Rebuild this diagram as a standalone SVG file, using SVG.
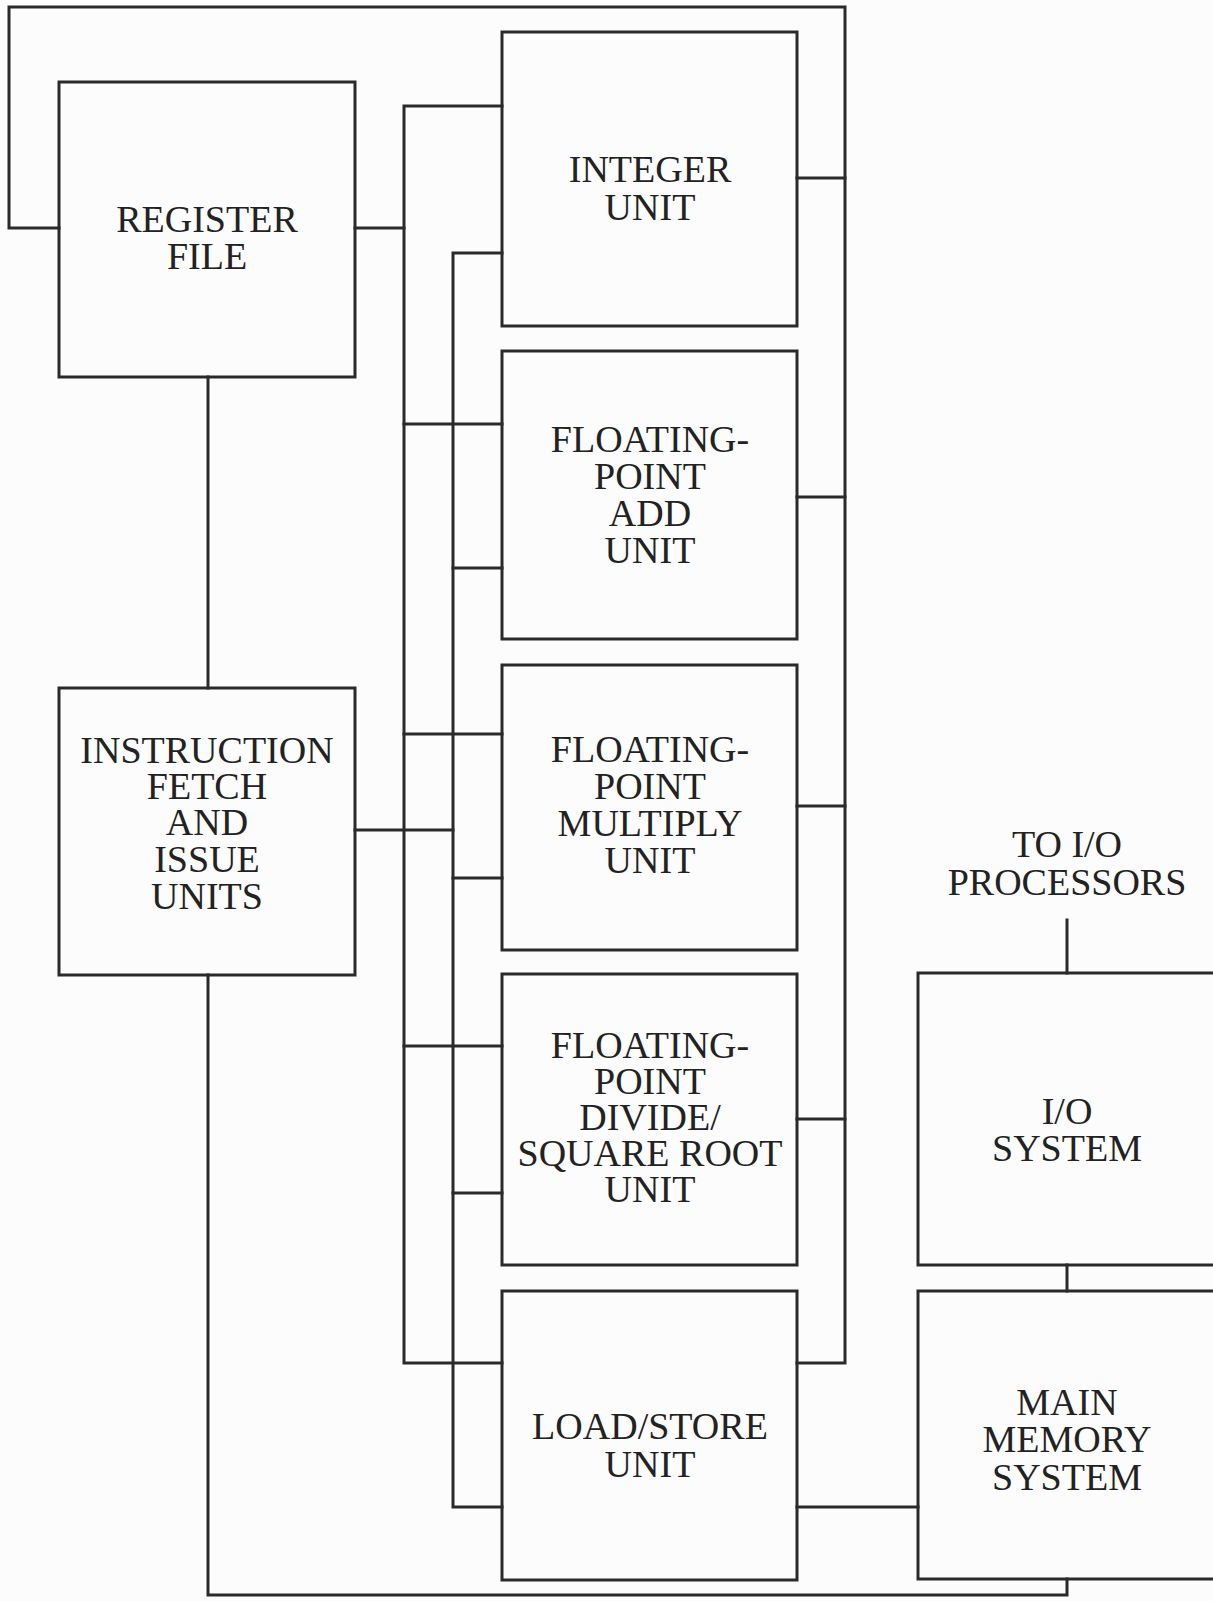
<svg xmlns="http://www.w3.org/2000/svg" width="1213" height="1601" viewBox="0 0 1213 1601">
<style>
.box{fill:none;stroke:#2a2a2a;stroke-width:3}
.wire{fill:none;stroke:#2a2a2a;stroke-width:3;stroke-linecap:square;stroke-linejoin:miter}
.lbl{font-family:"Liberation Serif","Times New Roman",serif;font-size:38px;fill:#222;text-anchor:middle}
</style>
<rect x="0" y="0" width="1213" height="1601" fill="#fcfcfc"/>
<g id="connectors">
<path class="wire" d="M59,228 H9 V7 H845 V1363 H797"/>
<path class="wire" d="M355,228 H404"/>
<path class="wire" d="M208,377 V688"/>
<path class="wire" d="M502,106 H404 V1363 H502"/>
<path class="wire" d="M502,253 H453 V1507 H502"/>
<path class="wire" d="M404,424 H502"/>
<path class="wire" d="M453,568 H502"/>
<path class="wire" d="M404,734 H502"/>
<path class="wire" d="M453,878 H502"/>
<path class="wire" d="M355,830 H453"/>
<path class="wire" d="M404,1046 H502"/>
<path class="wire" d="M453,1193 H502"/>
<path class="wire" d="M797,178 H845"/>
<path class="wire" d="M797,497 H845"/>
<path class="wire" d="M797,806 H845"/>
<path class="wire" d="M797,1119 H845"/>
<path class="wire" d="M797,1507 H918"/>
<path class="wire" d="M208,975 V1595 H1067 V1579"/>
<path class="wire" d="M1067,920 V973"/>
<path class="wire" d="M1067,1265 V1291"/>
</g>
<g id="register-file">
<rect class="box" x="59" y="82" width="296" height="295"/>
<text class="lbl" x="207" y="232">REGISTER</text>
<text class="lbl" x="207" y="269">FILE</text>
</g>
<g id="instruction-fetch">
<rect class="box" x="59" y="688" width="296" height="287"/>
<text class="lbl" x="207" y="763">INSTRUCTION</text>
<text class="lbl" x="207" y="799">FETCH</text>
<text class="lbl" x="207" y="835">AND</text>
<text class="lbl" x="207" y="872">ISSUE</text>
<text class="lbl" x="207" y="909">UNITS</text>
</g>
<g id="integer-unit">
<rect class="box" x="502" y="32" width="295" height="294"/>
<text class="lbl" x="650" y="182">INTEGER</text>
<text class="lbl" x="650" y="220">UNIT</text>
</g>
<g id="fp-add-unit">
<rect class="box" x="502" y="351" width="295" height="288"/>
<text class="lbl" x="650" y="452">FLOATING-</text>
<text class="lbl" x="650" y="489">POINT</text>
<text class="lbl" x="650" y="526">ADD</text>
<text class="lbl" x="650" y="563">UNIT</text>
</g>
<g id="fp-multiply-unit">
<rect class="box" x="502" y="665" width="295" height="285"/>
<text class="lbl" x="650" y="762">FLOATING-</text>
<text class="lbl" x="650" y="799">POINT</text>
<text class="lbl" x="650" y="836">MULTIPLY</text>
<text class="lbl" x="650" y="873">UNIT</text>
</g>
<g id="fp-divide-unit">
<rect class="box" x="502" y="974" width="295" height="291"/>
<text class="lbl" x="650" y="1058">FLOATING-</text>
<text class="lbl" x="650" y="1094">POINT</text>
<text class="lbl" x="650" y="1130">DIVIDE/</text>
<text class="lbl" x="650" y="1166">SQUARE ROOT</text>
<text class="lbl" x="650" y="1202">UNIT</text>
</g>
<g id="load-store-unit">
<rect class="box" x="502" y="1291" width="295" height="289"/>
<text class="lbl" x="650" y="1439">LOAD/STORE</text>
<text class="lbl" x="650" y="1477">UNIT</text>
</g>
<g id="io-processors">
<text class="lbl" x="1067" y="857">TO I/O</text>
<text class="lbl" x="1067" y="895">PROCESSORS</text>
</g>
<g id="io-system">
<rect class="box" x="918" y="973" width="298" height="292"/>
<text class="lbl" x="1067" y="1124">I/O</text>
<text class="lbl" x="1067" y="1161">SYSTEM</text>
</g>
<g id="main-memory">
<rect class="box" x="918" y="1291" width="298" height="288"/>
<text class="lbl" x="1067" y="1415">MAIN</text>
<text class="lbl" x="1067" y="1452">MEMORY</text>
<text class="lbl" x="1067" y="1490">SYSTEM</text>
</g>
</svg>
